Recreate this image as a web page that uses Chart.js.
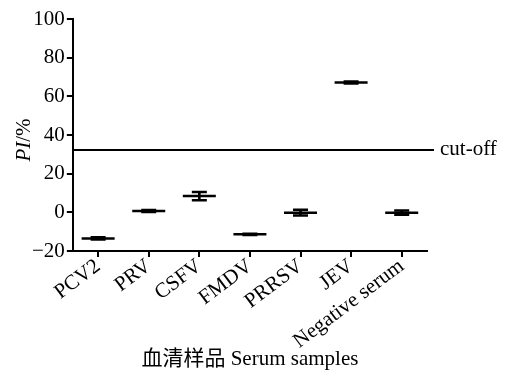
<!DOCTYPE html>
<html>
<head>
<meta charset="utf-8">
<script src="https://cdn.jsdelivr.net/npm/chart.js@4.4.1/dist/chart.umd.min.js"></script>
<style>
  html, body { margin: 0; padding: 0; background: #fff; }
  #wrap { width: 513px; height: 372px; }
</style>
</head>
<body>
<div id="wrap"><canvas id="chart"></canvas></div>
<script>
var categories = ['PCV2', 'PRV', 'CSFV', 'FMDV', 'PRRSV', 'JEV', 'Negative serum'];
var means = [-13.5, 0.7, 8.4, -11.4, -0.2, 67.2, -0.2];
var errors = [0.6, 0.5, 2.1, 0.3, 1.5, 0.5, 1.1];
var yTicks = [-20, 0, 20, 40, 60, 80, 100];
var cutoff = 32.3;

var serif = '"Liberation Serif", "Times New Roman", "Noto Sans CJK SC", serif';
var fontSize = 21;

var highs = [], lows = [], ranges = [];
for (var i = 0; i < means.length; i++) {
    highs.push(means[i] + errors[i]);
    lows.push(means[i] - errors[i]);
    ranges.push([means[i] - errors[i], means[i] + errors[i]]);
}

// cut-off line plus its label, and the y title with italic PI
var extras = {
    id: 'extras',
    afterDatasetsDraw: function (chart) {
        var ctx = chart.ctx;
        var area = chart.chartArea;
        var y = chart.scales.y.getPixelForValue(cutoff);
        ctx.save();
        ctx.strokeStyle = '#000';
        ctx.lineWidth = 2;
        ctx.beginPath();
        ctx.moveTo(area.left, y);
        ctx.lineTo(area.right + 7, y);
        ctx.stroke();
        ctx.fillStyle = '#000';
        ctx.font = fontSize + 'px ' + serif;
        ctx.textBaseline = 'middle';
        ctx.fillText('cut-off', area.right + 13, y);

        ctx.translate(24, 140);
        ctx.rotate(-Math.PI / 2);
        ctx.font = 'italic ' + fontSize + 'px ' + serif;
        var w1 = ctx.measureText('PI').width;
        ctx.font = fontSize + 'px ' + serif;
        var w2 = ctx.measureText('/%').width;
        var x0 = -(w1 + w2) / 2;
        ctx.textAlign = 'left';
        ctx.font = 'italic ' + fontSize + 'px ' + serif;
        ctx.fillText('PI', x0, 0);
        ctx.font = fontSize + 'px ' + serif;
        ctx.fillText('/%', x0 + w1, 0);
        ctx.restore();
    }
};

new Chart(document.getElementById('chart'), {
    type: 'bar',
    data: {
        labels: categories,
        datasets: [
            {
                type: 'bar',
                data: ranges,
                backgroundColor: '#000',
                barThickness: 2,
                order: 3
            },
            {
                type: 'line',
                data: highs,
                showLine: false,
                pointStyle: 'line',
                pointRadius: 7.5,
                pointBorderWidth: 2.5,
                borderColor: '#000',
                order: 2
            },
            {
                type: 'line',
                data: lows,
                showLine: false,
                pointStyle: 'line',
                pointRadius: 7.5,
                pointBorderWidth: 2.5,
                borderColor: '#000',
                order: 2
            },
            {
                type: 'line',
                data: means,
                showLine: false,
                pointStyle: 'line',
                pointRadius: 16.5,
                pointBorderWidth: 2.5,
                borderColor: '#000',
                order: 1
            }
        ]
    },
    options: {
        responsive: true,
        maintainAspectRatio: false,
        animation: false,
        events: [],
        layout: { padding: { left: 30, right: 86, top: 1, bottom: 0 } },
        plugins: {
            legend: { display: false },
            tooltip: { enabled: false }
        },
        scales: {
            x: {
                offset: true,
                afterFit: function (scale) { scale.height = 121; },
                grid: { display: true, offset: false, drawOnChartArea: false, color: '#000', lineWidth: 2, tickLength: 6 },
                border: { color: '#000', width: 2 },
                ticks: {
                    color: '#000',
                    font: { family: serif, size: fontSize },
                    minRotation: 37,
                    maxRotation: 37,
                    autoSkip: false,
                    padding: -3
                },
                title: {
                    display: true,
                    text: '血清样品 Serum samples',
                    color: '#000',
                    font: { family: serif, size: fontSize },
                    padding: { top: 0, bottom: 0 }
                }
            },
            y: {
                min: -20,
                max: 100,
                afterBuildTicks: function (axis) {
                    axis.ticks = yTicks.map(function (v) { return { value: v }; });
                },
                grid: { display: true, drawOnChartArea: false, color: '#000', lineWidth: 2, tickLength: 6 },
                border: { color: '#000', width: 2 },
                ticks: {
                    color: '#000',
                    font: { family: serif, size: fontSize },
                    padding: 2,
                    callback: function (v) { return String(v).replace('-', '\u2212'); }
                }
            }
        }
    },
    plugins: [extras]
});
</script>
</body>
</html>
